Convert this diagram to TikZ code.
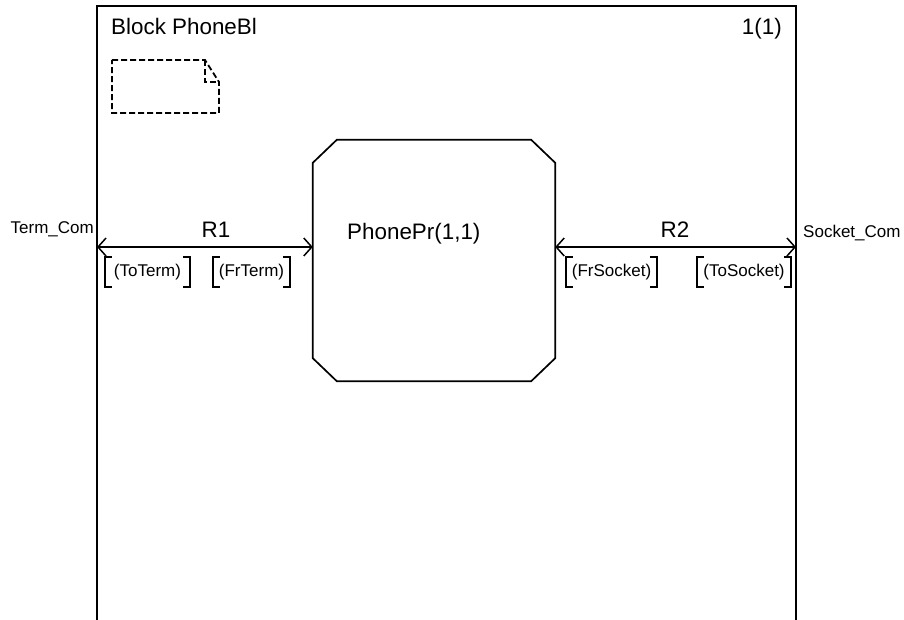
\documentclass[tikz,border=0pt]{standalone}
\usepackage{fontspec}
\setmainfont{Liberation Sans}
\usetikzlibrary{arrows.meta}
\begin{document}
\begin{tikzpicture}[x=1pt,y=-1pt,
  frame/.style={line width=2.4pt},
  big/.style={font=\fontsize{22.4}{26}\selectfont, inner sep=0pt},
  small/.style={font=\fontsize{17}{20}\selectfont, inner sep=0pt},
  barb/.tip={Straight Barb[length=8pt,width=18pt]},
  channel/.style={line width=1.5pt, barb-barb},
  siglist/.style={small, minimum height=30pt, inner xsep=0pt},
  bracket/.style={line width=2pt},
  note/.style={line width=1.8pt, dash pattern=on 6pt off 3pt},
  proc/.style={minimum width=242pt, minimum height=241pt, inner sep=0pt},
  procline/.style={line width=1.7pt, line join=miter},
]
\useasboundingbox (0,0) rectangle (904,620);

% block frame, open at the bottom
\draw[frame] (97,622) -- (97,6) -- (796,6) -- (796,622);
\node[big, anchor=base west] (title) at (111,35) {Block PhoneBl};
\node[big, anchor=base east] (page) at (782,35) {1(1)};

% empty text symbol (dashed, folded corner)
\draw[note] (112,60) -- (205,60) -- (219,82) -- (219,113) -- (112,113) -- cycle;
\draw[note] (205,60) -- (205,82) -- (219,82);

% process PhonePr: octagon
\node[proc] (pr) at (434,260.5) {};
\draw[procline] ([xshift=24pt]pr.north west) -- ([xshift=-24pt]pr.north east)
  -- ([yshift=-23pt]pr.north east) -- ([yshift=23pt]pr.south east)
  -- ([xshift=-24pt]pr.south east) -- ([xshift=24pt]pr.south west)
  -- ([yshift=23pt]pr.south west) -- ([yshift=-23pt]pr.north west) -- cycle;
\node[big, anchor=base west] (prname) at (347,240) {PhonePr(1,1)};

% gates on the block frame
\coordinate (g1) at (97,247);
\coordinate (g2) at (796,247);
\node[small, anchor=base east] (gate1) at (94,234) {Term\_Com};
\node[small, anchor=base west] (gate2) at (803,237) {Socket\_Com};

% channels
\draw[channel] (g1) -- (g1 -| pr.west);
\draw[channel] (g2 -| pr.east) -- (g2);
\node[big, anchor=base] (r1) at (216,238) {R1};
\node[big, anchor=base] (r2) at (675,238) {R2};

% signal lists
\node[siglist, minimum width=85pt] (l1) at (147.5,272) {(ToTerm)};
\node[siglist, minimum width=77pt] (l2) at (251.5,272) {(FrTerm)};
\node[siglist, minimum width=91pt] (l3) at (611.5,272) {(FrSocket)};
\node[siglist, minimum width=94pt] (l4) at (744,272) {(ToSocket)};
\foreach \n in {l1,l2,l3,l4}{
  \draw[bracket] ([xshift=7pt]\n.north west) -- (\n.north west) -- (\n.south west) -- ([xshift=7pt]\n.south west);
  \draw[bracket] ([xshift=-7pt]\n.north east) -- (\n.north east) -- (\n.south east) -- ([xshift=-7pt]\n.south east);
}
\end{tikzpicture}
\end{document}
